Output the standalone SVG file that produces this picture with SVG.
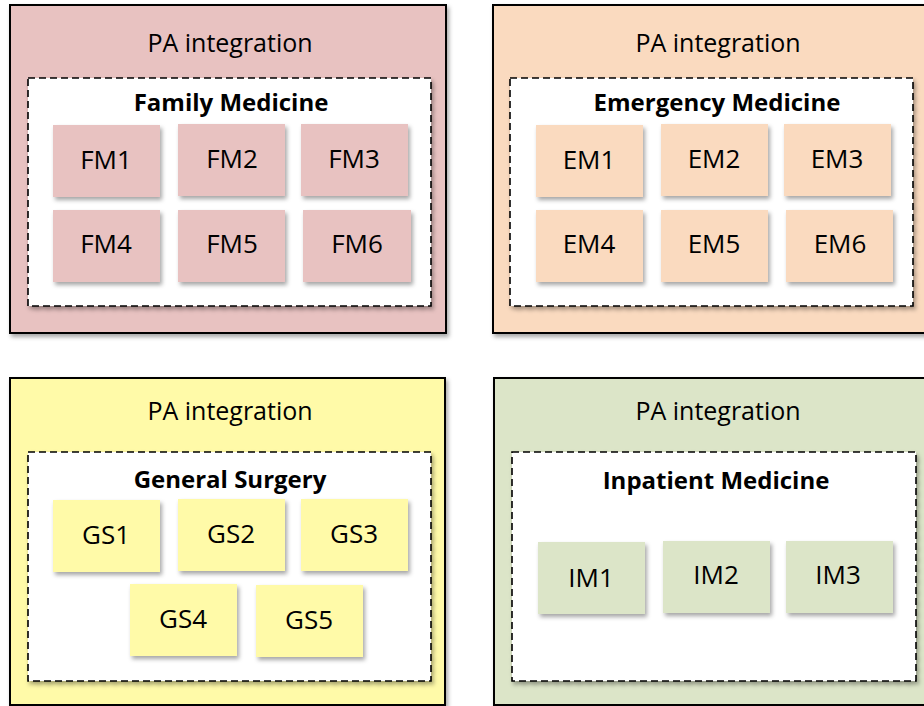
<svg xmlns="http://www.w3.org/2000/svg" width="924" height="706" viewBox="0 0 924 706">
<defs>
<filter id="sh" x="-10%" y="-10%" width="130%" height="130%">
<feDropShadow dx="2" dy="3" stdDeviation="2" flood-color="#000" flood-opacity="0.35"/>
</filter>
</defs>
<style>
.outer{stroke:#000;stroke-width:2;filter:url(#sh)}
.dash{fill:#fff;stroke:#000;stroke-width:1.6;stroke-dasharray:7 4;filter:url(#sh)}
.box{filter:url(#sh)}
.fm{fill:#E8C2C1}.em{fill:#FADABF}.gs{fill:#FFFAA8}.im{fill:#DCE5C8}
.pa{font-family:"Open Sans","Liberation Sans",sans-serif;font-size:25px;text-anchor:middle;fill:#000}
.ti{font-family:"Open Sans","Liberation Sans",sans-serif;font-size:24px;font-weight:bold;text-anchor:middle;fill:#000}
.lb{font-family:"Open Sans","Liberation Sans",sans-serif;font-size:26px;text-anchor:middle;fill:#000}
</style>
<rect width="924" height="706" fill="#fff"/>

<g id="panel-fm">
<rect class="outer fm" x="10" y="5" width="436" height="328"/>
<text class="pa" x="230" y="52">PA integration</text>
<rect class="dash" x="28" y="78" width="403" height="228"/>
<text class="ti" x="231" y="111">Family Medicine</text>
</g>
<g id="FM1"><rect class="box fm" x="53" y="125" width="107" height="72"/><text class="lb" x="106" y="169">FM1</text></g>
<g id="FM2"><rect class="box fm" x="178" y="124" width="107" height="72"/><text class="lb" x="232" y="168">FM2</text></g>
<g id="FM3"><rect class="box fm" x="301" y="124" width="107" height="72"/><text class="lb" x="354" y="168">FM3</text></g>
<g id="FM4"><rect class="box fm" x="53" y="210" width="107" height="72"/><text class="lb" x="106" y="253">FM4</text></g>
<g id="FM5"><rect class="box fm" x="178" y="210" width="107" height="72"/><text class="lb" x="232" y="253">FM5</text></g>
<g id="FM6"><rect class="box fm" x="303" y="210" width="108" height="72"/><text class="lb" x="357" y="253">FM6</text></g>

<g id="panel-em">
<rect class="outer em" x="493" y="5" width="440" height="328"/>
<text class="pa" x="718" y="52">PA integration</text>
<rect class="dash" x="510" y="78" width="403" height="228"/>
<text class="ti" x="717" y="111">Emergency Medicine</text>
</g>
<g id="EM1"><rect class="box em" x="536" y="125" width="107" height="72"/><text class="lb" x="589" y="169">EM1</text></g>
<g id="EM2"><rect class="box em" x="661" y="124" width="107" height="72"/><text class="lb" x="714" y="168">EM2</text></g>
<g id="EM3"><rect class="box em" x="784" y="124" width="107" height="72"/><text class="lb" x="837" y="168">EM3</text></g>
<g id="EM4"><rect class="box em" x="536" y="210" width="107" height="72"/><text class="lb" x="589" y="253">EM4</text></g>
<g id="EM5"><rect class="box em" x="661" y="210" width="107" height="72"/><text class="lb" x="714" y="253">EM5</text></g>
<g id="EM6"><rect class="box em" x="786" y="210" width="107" height="72"/><text class="lb" x="840" y="253">EM6</text></g>

<g id="panel-gs">
<rect class="outer gs" x="10" y="378" width="435" height="327"/>
<text class="pa" x="230" y="420">PA integration</text>
<rect class="dash" x="28" y="452" width="403" height="229"/>
<text class="ti" x="230" y="488">General Surgery</text>
</g>
<g id="GS1"><rect class="box gs" x="53" y="500" width="107" height="72"/><text class="lb" x="106" y="544">GS1</text></g>
<g id="GS2"><rect class="box gs" x="178" y="499" width="107" height="72"/><text class="lb" x="231" y="543">GS2</text></g>
<g id="GS3"><rect class="box gs" x="301" y="499" width="107" height="72"/><text class="lb" x="354" y="543">GS3</text></g>
<g id="GS4"><rect class="box gs" x="130" y="584" width="107" height="72"/><text class="lb" x="183" y="628">GS4</text></g>
<g id="GS5"><rect class="box gs" x="256" y="585" width="107" height="72"/><text class="lb" x="309" y="629">GS5</text></g>

<g id="panel-im">
<rect class="outer im" x="494" y="378" width="440" height="327"/>
<text class="pa" x="718" y="420">PA integration</text>
<rect class="dash" x="512" y="452" width="404" height="229"/>
<text class="ti" x="716" y="489">Inpatient Medicine</text>
</g>
<g id="IM1"><rect class="box im" x="538" y="542" width="107" height="72"/><text class="lb" x="591" y="587">IM1</text></g>
<g id="IM2"><rect class="box im" x="663" y="541" width="107" height="72"/><text class="lb" x="716" y="584">IM2</text></g>
<g id="IM3"><rect class="box im" x="786" y="541" width="107" height="72"/><text class="lb" x="838" y="584">IM3</text></g>

<g id="connectors"></g>
</svg>
